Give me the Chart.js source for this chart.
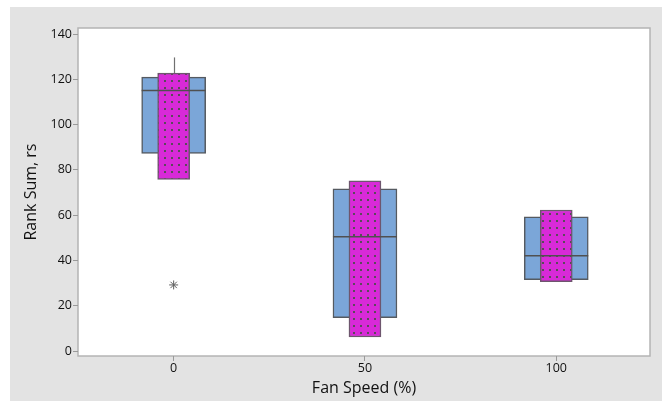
<!DOCTYPE html>
<html>
<head>
<meta charset="utf-8">
<title>Rank Sum by Fan Speed</title>
<script src="https://cdn.jsdelivr.net/npm/chart.js@4.4.0/dist/chart.umd.min.js"></script>
<style>
  body { margin: 0; background: #ffffff; }
  #wrap { width: 662px; height: 401px; }
</style>
</head>
<body>
<div id="wrap"><canvas id="rankChart" width="662" height="401"></canvas></div>
<script>
// data
const fanSpeeds = [0, 50, 100];
const boxQ1 = [87.3, 14.7, 31.5];
const boxMedian = [115.1, 50.5, 42.1];
const boxQ3 = [121.0, 71.7, 59.3];
const whiskerLow = [87.3, 14.7, 31.5];
const whiskerHigh = [129.7, 71.7, 59.3];
const intervalLow = [75.8, 6.2, 30.6];
const intervalHigh = [122.8, 75.2, 62.3];
const outlierX = [0];
const outlierY = [29.2];
const yTicks = [0, 20, 40, 60, 80, 100, 120, 140];
const xTicks = [0, 50, 100];

const BOX_WIDTH = 64;
const INTERVAL_WIDTH = 32;

// magenta fill with a grid of small dark dots
function makeDotPattern() {
    const c = document.createElement('canvas');
    c.width = 7;
    c.height = 7;
    const g = c.getContext('2d');
    g.fillStyle = '#d82ad8';
    g.fillRect(0, 0, 7, 7);
    g.fillStyle = '#5a4a5a';
    g.fillRect(3, 3, 2, 2);
    return g.createPattern(c, 'repeat');
}

// grey panel + plot frame
const panelPlugin = {
    id: 'panel',
    beforeDraw(chart) {
        const ctx = chart.ctx;
        const a = chart.chartArea;
        ctx.save();
        ctx.fillStyle = '#ffffff';
        ctx.fillRect(0, 0, chart.width, chart.height);
        ctx.fillStyle = '#e3e3e3';
        ctx.fillRect(10, 7, chart.width - 10, chart.height - 7);
        ctx.fillStyle = '#ffffff';
        ctx.fillRect(a.left, a.top, a.right - a.left, a.bottom - a.top);
        ctx.strokeStyle = '#b4b4b4';
        ctx.lineWidth = 1.5;
        ctx.strokeRect(a.left, a.top, a.right - a.left, a.bottom - a.top);
        ctx.restore();
    }
};

// whiskers (under the boxes) and median lines (on top)
const boxLinesPlugin = {
    id: 'boxLines',
    beforeDatasetsDraw(chart) {
        const ctx = chart.ctx;
        const xs = chart.scales.x;
        const ys = chart.scales.y;
        ctx.save();
        ctx.strokeStyle = '#707070';
        ctx.lineWidth = 1.2;
        fanSpeeds.forEach((s, i) => {
            const x = Math.round(xs.getPixelForValue(s)) + 0.5;
            ctx.beginPath();
            ctx.moveTo(x, ys.getPixelForValue(boxQ3[i]));
            ctx.lineTo(x, ys.getPixelForValue(whiskerHigh[i]));
            ctx.moveTo(x, ys.getPixelForValue(boxQ1[i]));
            ctx.lineTo(x, ys.getPixelForValue(whiskerLow[i]));
            ctx.stroke();
        });
        ctx.restore();
    },
    afterDatasetsDraw(chart) {
        const ctx = chart.ctx;
        const xs = chart.scales.x;
        const ys = chart.scales.y;
        ctx.save();
        ctx.strokeStyle = '#505050';
        ctx.lineWidth = 1.5;
        fanSpeeds.forEach((s, i) => {
            const x = xs.getPixelForValue(s);
            const y = ys.getPixelForValue(boxMedian[i]);
            ctx.beginPath();
            ctx.moveTo(x - BOX_WIDTH / 2, y);
            ctx.lineTo(x + BOX_WIDTH / 2, y);
            ctx.stroke();
        });
        ctx.restore();
    }
};

function initRankChart() {
    const ctx = document.getElementById('rankChart').getContext('2d');
    const tickFont = { family: "'Open Sans', 'Noto Sans', sans-serif", size: 12.5 };
    const titleFont = { family: "'Open Sans', 'Noto Sans', sans-serif", size: 16 };

    new Chart(ctx, {
        type: 'bar',
        data: {
            datasets: [
                {
                    type: 'scatter',
                    label: 'Outlier',
                    data: outlierX.map((x, i) => ({ x: x, y: outlierY[i] })),
                    pointStyle: 'star',
                    radius: 4.5,
                    borderColor: '#606060',
                    borderWidth: 1,
                    backgroundColor: '#606060',
                    order: 0
                },
                {
                    label: 'Interval',
                    data: fanSpeeds.map((s, i) => ({ x: s, y: [intervalLow[i], intervalHigh[i]] })),
                    backgroundColor: makeDotPattern(),
                    borderColor: '#6e566e',
                    borderWidth: 1.5,
                    borderSkipped: false,
                    barThickness: INTERVAL_WIDTH,
                    grouped: false,
                    order: 1
                },
                {
                    label: 'Box',
                    data: fanSpeeds.map((s, i) => ({ x: s, y: [boxQ1[i], boxQ3[i]] })),
                    backgroundColor: '#7ba6d8',
                    borderColor: '#555a60',
                    borderWidth: 1.5,
                    borderSkipped: false,
                    barThickness: BOX_WIDTH,
                    grouped: false,
                    order: 2
                }
            ]
        },
        options: {
            responsive: false,
            animation: false,
            layout: {
                padding: { left: 10, top: 28, right: 12, bottom: 0 }
            },
            plugins: {
                legend: { display: false },
                tooltip: { enabled: false }
            },
            scales: {
                x: {
                    type: 'linear',
                    offset: false,
                    min: -25,
                    max: 124.5,
                    afterBuildTicks: scale => { scale.ticks = xTicks.map(v => ({ value: v })); },
                    afterFit: scale => { scale.height = 45; },
                    grid: {
                        offset: false,
                        drawOnChartArea: false,
                        color: '#9a9a9a',
                        tickLength: 5
                    },
                    border: { display: false },
                    ticks: {
                        font: tickFont,
                        color: '#111111',
                        padding: 0,
                        maxRotation: 0
                    },
                    title: {
                        display: true,
                        text: 'Fan Speed (%)',
                        font: titleFont,
                        color: '#111111',
                        padding: { top: 0, bottom: 3 }
                    }
                },
                y: {
                    min: -2.2,
                    max: 142.7,
                    afterBuildTicks: scale => { scale.ticks = yTicks.map(v => ({ value: v })); },
                    afterFit: scale => { scale.width = 68; },
                    grid: {
                        drawOnChartArea: false,
                        color: '#9a9a9a',
                        tickLength: 5
                    },
                    border: { display: false },
                    ticks: {
                        font: tickFont,
                        color: '#111111',
                        padding: 1
                    },
                    title: {
                        display: true,
                        text: 'Rank Sum, rs',
                        font: titleFont,
                        color: '#111111',
                        padding: { top: 12, bottom: 4 }
                    }
                }
            }
        },
        plugins: [panelPlugin, boxLinesPlugin]
    });
}

document.addEventListener('DOMContentLoaded', function() {
    initRankChart();
});
</script>
</body>
</html>
